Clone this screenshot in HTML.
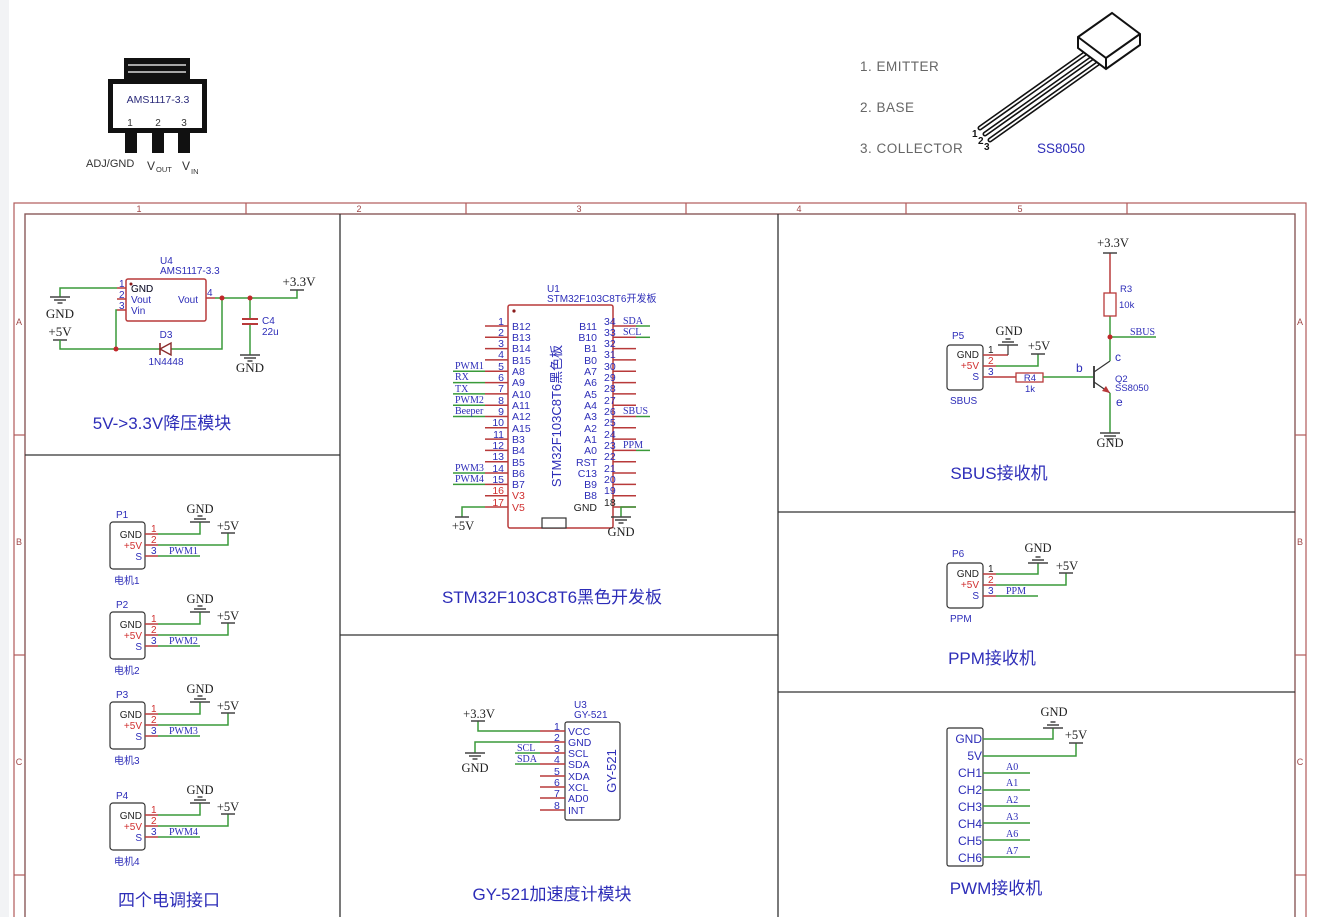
<!DOCTYPE html>
<html><head><meta charset="utf-8"><style>
html,body{margin:0;padding:0;background:#fff;}
svg{display:block;font-family:"Liberation Sans","Noto Sans CJK SC",sans-serif;}
.w{stroke:#3a9a3a;stroke-width:1.5;fill:none}
.p{stroke:#b83a3a;stroke-width:1.5;fill:none}
.k{stroke:#333;stroke-width:1.2;fill:none}
.b{fill:#2d2db8}
.r{fill:#d03030}
.s{font-family:"Liberation Serif",serif;fill:#222}
.sb{font-family:"Liberation Serif",serif;fill:#2d2db8}
</style></head><body>
<svg width="1319" height="917" viewBox="0 0 1319 917" xmlns="http://www.w3.org/2000/svg">
<defs>
<g id="gd" stroke="#444" stroke-width="1.5"><line x1="-10" y1="0" x2="10" y2="0"/><line x1="-6" y1="3" x2="6" y2="3"/><line x1="-2.5" y1="6" x2="2.5" y2="6"/></g>
<g id="gu" stroke="#444" stroke-width="1.5"><line x1="-10" y1="0" x2="10" y2="0"/><line x1="-6" y1="-3" x2="6" y2="-3"/><line x1="-2.5" y1="-6" x2="2.5" y2="-6"/></g>
<g id="pw" stroke="#444" stroke-width="1.5"><line x1="-7" y1="0" x2="7" y2="0"/></g>
</defs>
<rect x="0" y="0" width="9" height="917" fill="#f2f3f5"/>

<!-- TOP: AMS1117 package -->
<rect x="124" y="58" width="66" height="22" fill="#111"/>
<line x1="128" y1="65" x2="186" y2="65" stroke="#fff" stroke-width="1.2"/>
<line x1="128" y1="72" x2="186" y2="72" stroke="#fff" stroke-width="1.2"/>
<rect x="108" y="79" width="99" height="54" fill="#111"/>
<rect x="113" y="84" width="89" height="44" fill="#fff"/>
<text x="158" y="103" font-size="10.5" text-anchor="middle" fill="#2a2a7a">AMS1117-3.3</text>
<text x="130" y="126" font-size="10" text-anchor="middle" fill="#333">1</text>
<text x="158" y="126" font-size="10" text-anchor="middle" fill="#333">2</text>
<text x="184" y="126" font-size="10" text-anchor="middle" fill="#333">3</text>
<rect x="125" y="133" width="12" height="20" fill="#111"/>
<rect x="152" y="133" width="12" height="20" fill="#111"/>
<rect x="178" y="133" width="12" height="20" fill="#111"/>
<text x="86" y="167" font-size="11" fill="#333">ADJ/GND</text>
<text x="147" y="170" font-size="12" fill="#333">V</text><text x="156" y="172" font-size="7.5" fill="#333">OUT</text>
<text x="182" y="170" font-size="12" fill="#333">V</text><text x="191" y="174" font-size="7.5" fill="#333">IN</text>

<!-- TOP: transistor -->
<text x="860" y="71" font-size="13.5" fill="#666" letter-spacing="0.5">1. EMITTER</text>
<text x="860" y="112" font-size="13.5" fill="#666" letter-spacing="0.5">2. BASE</text>
<text x="860" y="153" font-size="13.5" fill="#666" letter-spacing="0.5">3. COLLECTOR</text>
<text x="1037" y="153" font-size="13.5" fill="#2d2db8">SS8050</text>
<g stroke="#111" stroke-width="5" stroke-linecap="round">
<line x1="980" y1="128" x2="1090" y2="50"/><line x1="985" y1="134" x2="1095" y2="56"/><line x1="990" y1="140" x2="1100" y2="62"/></g>
<g stroke="#fff" stroke-width="1.8" stroke-linecap="round">
<line x1="980" y1="128" x2="1090" y2="50"/><line x1="985" y1="134" x2="1095" y2="56"/><line x1="990" y1="140" x2="1100" y2="62"/></g>
<polygon points="1078,37 1112,13 1140,34 1140,45 1106,69 1078,48" fill="#fff" stroke="#111" stroke-width="2"/>
<polyline points="1078,37 1106,58 1140,34" fill="none" stroke="#111" stroke-width="2"/>
<line x1="1106" y1="58" x2="1106" y2="69" stroke="#111" stroke-width="2"/>
<text x="972" y="137" font-size="10" font-weight="bold" fill="#111">1</text>
<text x="978" y="144" font-size="10" font-weight="bold" fill="#111">2</text>
<text x="984" y="150" font-size="10" font-weight="bold" fill="#111">3</text>

<!-- FRAME -->
<rect x="14" y="203" width="1292" height="730" fill="none" stroke="#b05a5a" stroke-width="1.2"/>
<rect x="25" y="214" width="1270" height="720" fill="none" stroke="#8a5a5a" stroke-width="1.4"/>
<g stroke="#b05a5a" stroke-width="1.2">
<line x1="246" y1="203" x2="246" y2="214"/><line x1="466" y1="203" x2="466" y2="214"/><line x1="686" y1="203" x2="686" y2="214"/><line x1="906" y1="203" x2="906" y2="214"/><line x1="1127" y1="203" x2="1127" y2="214"/>
<line x1="14" y1="435" x2="25" y2="435"/><line x1="14" y1="655" x2="25" y2="655"/><line x1="14" y1="875" x2="25" y2="875"/>
<line x1="1295" y1="435" x2="1306" y2="435"/><line x1="1295" y1="655" x2="1306" y2="655"/><line x1="1295" y1="875" x2="1306" y2="875"/>
</g>
<g font-size="9" fill="#a04848" text-anchor="middle">
<text x="139" y="212">1</text><text x="359" y="212">2</text><text x="579" y="212">3</text><text x="799" y="212">4</text><text x="1020" y="212">5</text>
<text x="19" y="325">A</text><text x="19" y="545">B</text><text x="19" y="765">C</text>
<text x="1300" y="325">A</text><text x="1300" y="545">B</text><text x="1300" y="765">C</text>
</g>
<g stroke="#333" stroke-width="1.3">
<line x1="340" y1="214" x2="340" y2="917"/><line x1="778" y1="214" x2="778" y2="917"/>
<line x1="25" y1="455" x2="340" y2="455"/><line x1="340" y1="635" x2="778" y2="635"/>
<line x1="778" y1="512" x2="1295" y2="512"/><line x1="778" y1="692" x2="1295" y2="692"/>
</g>

<!-- MODULE 1: regulator -->
<text x="160" y="264" font-size="10" class="b">U4</text>
<text x="160" y="274" font-size="10" class="b">AMS1117-3.3</text>
<rect x="126" y="279" width="80" height="42" rx="2" class="p" stroke-width="1.2"/>
<circle cx="131" cy="284" r="1.5" fill="#8a1a1a"/>
<line x1="117" y1="288" x2="126" y2="288" class="p"/><line x1="117" y1="299" x2="126" y2="299" class="p"/><line x1="117" y1="310" x2="126" y2="310" class="p"/>
<line x1="206" y1="298" x2="215" y2="298" class="p"/>
<g font-size="10" class="b"><text x="119" y="287">1</text><text x="119" y="298">2</text><text x="119" y="309">3</text><text x="207" y="296">4</text>
<text x="131" y="292">GND</text><text x="131" y="303">Vout</text><text x="131" y="314">Vin</text><text x="178" y="303">Vout</text></g>
<text x="131" y="292" font-size="10" fill="#222">GND</text>
<polyline points="117,288 60,288 60,297" class="w"/>
<use href="#gd" x="60" y="297"/>
<text x="60" y="318" font-size="13" class="s" text-anchor="middle">GND</text>
<text x="60" y="336" font-size="13" class="s" text-anchor="middle">+5V</text>
<use href="#pw" x="60" y="340"/>
<polyline points="60,340 60,349 222,349 222,298" class="w"/>
<polyline points="117,310 116,310 116,349" class="w"/>
<polyline points="215,298 297,298 297,290" class="w"/>
<use href="#pw" x="297" y="290"/>
<text x="299" y="286" font-size="13" class="s" text-anchor="middle">+3.3V</text>
<polygon points="160,349 171,343 171,355" fill="#fff" stroke="#8a2a2a" stroke-width="1.4"/>
<line x1="160" y1="343" x2="160" y2="355" stroke="#8a2a2a" stroke-width="1.6"/>
<text x="166" y="338" font-size="10" class="b" text-anchor="middle">D3</text>
<text x="166" y="365" font-size="10" class="b" text-anchor="middle">1N4448</text>
<line x1="250" y1="298" x2="250" y2="318" class="w"/>
<line x1="242" y1="319" x2="258" y2="319" stroke="#b83a3a" stroke-width="2"/>
<line x1="242" y1="324" x2="258" y2="324" stroke="#b83a3a" stroke-width="2"/>
<line x1="250" y1="325" x2="250" y2="355" class="w"/>
<use href="#gd" x="250" y="355"/>
<text x="250" y="372" font-size="13" class="s" text-anchor="middle">GND</text>
<text x="262" y="324" font-size="10" class="b">C4</text><text x="262" y="335" font-size="10" class="b">22u</text>
<g fill="#c0282a"><circle cx="116" cy="349" r="2.5"/><circle cx="222" cy="298" r="2.5"/><circle cx="250" cy="298" r="2.5"/></g>
<text x="162" y="429" font-size="17" class="b" text-anchor="middle">5V-&gt;3.3V降压模块</text>

<!-- MOTOR connectors -->
<g id="m1">
<rect x="110" y="522" width="35" height="47" rx="3" class="k"/>
<line x1="145" y1="534" x2="158" y2="534" class="p"/><line x1="145" y1="545" x2="158" y2="545" class="p"/><line x1="145" y1="556" x2="158" y2="556" class="p"/>
<polyline points="158,534 200,534 200,522" class="w"/>
<polyline points="158,545 228,545 228,533" class="w"/>
<line x1="158" y1="556" x2="200" y2="556" class="w"/>
</g>
<g font-size="10">
<text x="116" y="518" class="b">P1</text>
<text x="142" y="538" fill="#222" text-anchor="end">GND</text><text x="142" y="549" class="r" text-anchor="end">+5V</text><text x="142" y="560" class="b" text-anchor="end">S</text>
<text x="151" y="532" class="r">1</text><text x="151" y="543" class="r">2</text><text x="151" y="554" class="b">3</text>
<text x="200" y="513" font-size="12.5" class="s" text-anchor="middle">GND</text>
<text x="228" y="530" font-size="12.5" class="s" text-anchor="middle">+5V</text>
<text x="169" y="554" class="sb">PWM1</text>
<text x="114" y="584" fill="#2d2db8" font-size="10">电机1</text>
</g>
<use href="#gu" x="200" y="522"/><use href="#pw" x="228" y="533"/>

<use href="#m1" x="0" y="90"/><use href="#gu" x="200" y="612"/><use href="#pw" x="228" y="623"/>
<g font-size="10">
<text x="116" y="608" class="b">P2</text>
<text x="142" y="628" fill="#222" text-anchor="end">GND</text><text x="142" y="639" class="r" text-anchor="end">+5V</text><text x="142" y="650" class="b" text-anchor="end">S</text>
<text x="151" y="622" class="r">1</text><text x="151" y="633" class="r">2</text><text x="151" y="644" class="b">3</text>
<text x="200" y="603" font-size="12.5" class="s" text-anchor="middle">GND</text>
<text x="228" y="620" font-size="12.5" class="s" text-anchor="middle">+5V</text>
<text x="169" y="644" class="sb">PWM2</text>
<text x="114" y="674" fill="#2d2db8" font-size="10">电机2</text>
</g>
<use href="#m1" x="0" y="180"/><use href="#gu" x="200" y="702"/><use href="#pw" x="228" y="713"/>
<g font-size="10">
<text x="116" y="698" class="b">P3</text>
<text x="142" y="718" fill="#222" text-anchor="end">GND</text><text x="142" y="729" class="r" text-anchor="end">+5V</text><text x="142" y="740" class="b" text-anchor="end">S</text>
<text x="151" y="712" class="r">1</text><text x="151" y="723" class="r">2</text><text x="151" y="734" class="b">3</text>
<text x="200" y="693" font-size="12.5" class="s" text-anchor="middle">GND</text>
<text x="228" y="710" font-size="12.5" class="s" text-anchor="middle">+5V</text>
<text x="169" y="734" class="sb">PWM3</text>
<text x="114" y="764" fill="#2d2db8" font-size="10">电机3</text>
</g>
<use href="#m1" x="0" y="281"/><use href="#gu" x="200" y="803"/><use href="#pw" x="228" y="814"/>
<g font-size="10">
<text x="116" y="799" class="b">P4</text>
<text x="142" y="819" fill="#222" text-anchor="end">GND</text><text x="142" y="830" class="r" text-anchor="end">+5V</text><text x="142" y="841" class="b" text-anchor="end">S</text>
<text x="151" y="813" class="r">1</text><text x="151" y="824" class="r">2</text><text x="151" y="835" class="b">3</text>
<text x="200" y="794" font-size="12.5" class="s" text-anchor="middle">GND</text>
<text x="228" y="811" font-size="12.5" class="s" text-anchor="middle">+5V</text>
<text x="169" y="835" class="sb">PWM4</text>
<text x="114" y="865" fill="#2d2db8" font-size="10">电机4</text>
</g>
<text x="169" y="906" font-size="17" class="b" text-anchor="middle">四个电调接口</text>

<!-- STM32 -->
<text x="547" y="292" font-size="10" class="b">U1</text>
<text x="547" y="302" font-size="10" class="b">STM32F103C8T6开发板</text>
<rect x="508" y="305" width="105" height="223" rx="2" class="p" stroke-width="1.2"/>
<circle cx="514" cy="311" r="1.6" fill="#8a1a1a"/>
<rect x="542" y="518" width="24" height="10" fill="#fff" stroke="#333" stroke-width="1.2"/>
<g class="p">
<line x1="485" y1="326" x2="508" y2="326"/><line x1="485" y1="337.3" x2="508" y2="337.3"/><line x1="485" y1="348.6" x2="508" y2="348.6"/><line x1="485" y1="359.9" x2="508" y2="359.9"/><line x1="485" y1="371.2" x2="508" y2="371.2"/><line x1="485" y1="382.6" x2="508" y2="382.6"/><line x1="485" y1="393.9" x2="508" y2="393.9"/><line x1="485" y1="405.2" x2="508" y2="405.2"/><line x1="485" y1="416.5" x2="508" y2="416.5"/><line x1="485" y1="427.8" x2="508" y2="427.8"/><line x1="485" y1="439.1" x2="508" y2="439.1"/><line x1="485" y1="450.4" x2="508" y2="450.4"/><line x1="485" y1="461.7" x2="508" y2="461.7"/><line x1="485" y1="473" x2="508" y2="473"/><line x1="485" y1="484.4" x2="508" y2="484.4"/><line x1="485" y1="495.7" x2="508" y2="495.7"/><line x1="485" y1="507" x2="508" y2="507"/>
<line x1="613" y1="326" x2="636" y2="326"/><line x1="613" y1="337.3" x2="636" y2="337.3"/><line x1="613" y1="348.6" x2="636" y2="348.6"/><line x1="613" y1="359.9" x2="636" y2="359.9"/><line x1="613" y1="371.2" x2="636" y2="371.2"/><line x1="613" y1="382.6" x2="636" y2="382.6"/><line x1="613" y1="393.9" x2="636" y2="393.9"/><line x1="613" y1="405.2" x2="636" y2="405.2"/><line x1="613" y1="416.5" x2="636" y2="416.5"/><line x1="613" y1="427.8" x2="636" y2="427.8"/><line x1="613" y1="439.1" x2="636" y2="439.1"/><line x1="613" y1="450.4" x2="636" y2="450.4"/><line x1="613" y1="461.7" x2="636" y2="461.7"/><line x1="613" y1="473" x2="636" y2="473"/><line x1="613" y1="484.4" x2="636" y2="484.4"/><line x1="613" y1="495.7" x2="636" y2="495.7"/><line x1="613" y1="507" x2="636" y2="507"/>
</g>
<g font-size="10.5" class="b" text-anchor="end">
<text x="504" y="325">1</text><text x="504" y="336">2</text><text x="504" y="347">3</text><text x="504" y="358">4</text><text x="504" y="370">5</text><text x="504" y="381">6</text><text x="504" y="392">7</text><text x="504" y="404">8</text><text x="504" y="415">9</text><text x="504" y="426">10</text><text x="504" y="438">11</text><text x="504" y="449">12</text><text x="504" y="460">13</text><text x="504" y="472">14</text><text x="504" y="483">15</text>
<text x="504" y="494" class="r">16</text><text x="504" y="506" class="r">17</text>
</g>
<g font-size="10.5" class="b">
<text x="512" y="330">B12</text><text x="512" y="341">B13</text><text x="512" y="352">B14</text><text x="512" y="364">B15</text><text x="512" y="375">A8</text><text x="512" y="386">A9</text><text x="512" y="398">A10</text><text x="512" y="409">A11</text><text x="512" y="420">A12</text><text x="512" y="432">A15</text><text x="512" y="443">B3</text><text x="512" y="454">B4</text><text x="512" y="466">B5</text><text x="512" y="477">B6</text><text x="512" y="488">B7</text>
<text x="512" y="499" class="r">V3</text><text x="512" y="511" class="r">V5</text>
<text x="604" y="325">34</text><text x="604" y="336">33</text><text x="604" y="347">32</text><text x="604" y="358">31</text><text x="604" y="370">30</text><text x="604" y="381">29</text><text x="604" y="392">28</text><text x="604" y="404">27</text><text x="604" y="415">26</text><text x="604" y="426">25</text><text x="604" y="438">24</text><text x="604" y="449">23</text><text x="604" y="460">22</text><text x="604" y="472">21</text><text x="604" y="483">20</text><text x="604" y="494">19</text><text x="604" y="506" fill="#222">18</text>
</g>
<g font-size="10.5" class="b" text-anchor="end">
<text x="597" y="330">B11</text><text x="597" y="341">B10</text><text x="597" y="352">B1</text><text x="597" y="364">B0</text><text x="597" y="375">A7</text><text x="597" y="386">A6</text><text x="597" y="398">A5</text><text x="597" y="409">A4</text><text x="597" y="420">A3</text><text x="597" y="432">A2</text><text x="597" y="443">A1</text><text x="597" y="454">A0</text><text x="597" y="466">RST</text><text x="597" y="477">C13</text><text x="597" y="488">B9</text><text x="597" y="499">B8</text><text x="597" y="511" fill="#222">GND</text>
</g>
<text transform="translate(561,416) rotate(-90)" font-size="13" class="b" text-anchor="middle">STM32F103C8T6黑色板</text>
<g class="w">
<line x1="453" y1="371.2" x2="485" y2="371.2"/><line x1="453" y1="382.6" x2="485" y2="382.6"/><line x1="453" y1="393.9" x2="485" y2="393.9"/><line x1="453" y1="405.2" x2="485" y2="405.2"/><line x1="453" y1="416.5" x2="485" y2="416.5"/><line x1="453" y1="473" x2="485" y2="473"/><line x1="453" y1="484.4" x2="485" y2="484.4"/>
<line x1="636" y1="326" x2="650" y2="326"/><line x1="636" y1="337.3" x2="650" y2="337.3"/><line x1="636" y1="416.5" x2="650" y2="416.5"/><line x1="636" y1="450.4" x2="650" y2="450.4"/>
<polyline points="485,507 462,507 462,517"/><polyline points="636,507 621,507 621,517"/>
</g>
<g font-size="10" class="sb">
<text x="455" y="369">PWM1</text><text x="455" y="380">RX</text><text x="455" y="392">TX</text><text x="455" y="403">PWM2</text><text x="455" y="414">Beeper</text><text x="455" y="471">PWM3</text><text x="455" y="482">PWM4</text>
<text x="623" y="324">SDA</text><text x="623" y="335">SCL</text><text x="623" y="414">SBUS</text><text x="623" y="448">PPM</text>
</g>
<use href="#pw" x="462" y="517"/><use href="#gd" x="621" y="517"/>
<text x="463" y="530" font-size="12.5" class="s" text-anchor="middle">+5V</text>
<text x="621" y="536" font-size="12.5" class="s" text-anchor="middle">GND</text>
<text x="552" y="603" font-size="17" class="b" text-anchor="middle">STM32F103C8T6黑色开发板</text>

<!-- GY-521 -->
<text x="574" y="708" font-size="10" class="b">U3</text>
<text x="574" y="718" font-size="10" class="b">GY-521</text>
<rect x="565" y="722" width="55" height="98" rx="2" class="k"/>
<g class="p">
<line x1="540" y1="731" x2="565" y2="731"/><line x1="540" y1="742" x2="565" y2="742"/><line x1="540" y1="753" x2="565" y2="753"/><line x1="540" y1="764" x2="565" y2="764"/><line x1="540" y1="776" x2="565" y2="776"/><line x1="540" y1="787" x2="565" y2="787"/><line x1="540" y1="798" x2="565" y2="798"/><line x1="540" y1="810" x2="565" y2="810"/>
</g>
<g font-size="10.5" class="b">
<text x="554" y="730">1</text><text x="554" y="741">2</text><text x="554" y="752">3</text><text x="554" y="763">4</text><text x="554" y="775">5</text><text x="554" y="786">6</text><text x="554" y="797">7</text><text x="554" y="809">8</text>
<text x="568" y="735">VCC</text><text x="568" y="746">GND</text><text x="568" y="757">SCL</text><text x="568" y="768">SDA</text><text x="568" y="780">XDA</text><text x="568" y="791">XCL</text><text x="568" y="802">AD0</text><text x="568" y="814">INT</text>
</g>
<text transform="translate(616,771) rotate(-90)" font-size="13" class="b" text-anchor="middle">GY-521</text>
<g class="w">
<polyline points="478,721 478,731 540,731"/><polyline points="540,742 475,742 475,753"/>
<line x1="515" y1="753" x2="540" y2="753"/><line x1="515" y1="764" x2="540" y2="764"/>
</g>
<use href="#pw" x="478" y="721"/><use href="#gd" x="475" y="753"/>
<text x="479" y="718" font-size="12.5" class="s" text-anchor="middle">+3.3V</text>
<text x="475" y="772" font-size="12.5" class="s" text-anchor="middle">GND</text>
<text x="517" y="751" font-size="10" class="sb">SCL</text><text x="517" y="762" font-size="10" class="sb">SDA</text>
<text x="552" y="900" font-size="17" class="b" text-anchor="middle">GY-521加速度计模块</text>

<!-- SBUS -->
<text x="952" y="339" font-size="10" class="b">P5</text>
<rect x="947" y="345" width="36" height="45" rx="3" class="k"/>
<g font-size="10">
<text x="979" y="358" fill="#222" text-anchor="end">GND</text><text x="979" y="369" class="r" text-anchor="end">+5V</text><text x="979" y="380" class="b" text-anchor="end">S</text>
<text x="988" y="353" fill="#222">1</text><text x="988" y="364" class="r">2</text><text x="988" y="375" class="b">3</text>
<text x="950" y="404" class="b">SBUS</text>
</g>
<line x1="983" y1="355" x2="1008" y2="355" class="p"/><line x1="1008" y1="355" x2="1008" y2="345" class="k"/>
<line x1="983" y1="366" x2="996" y2="366" class="p"/><polyline points="996,366 1038,366 1038,354" class="w"/>
<line x1="983" y1="377" x2="1016" y2="377" class="p"/>
<use href="#gu" x="1008" y="345"/><use href="#pw" x="1038" y="354"/>
<text x="1009" y="335" font-size="12.5" class="s" text-anchor="middle">GND</text>
<text x="1039" y="350" font-size="12.5" class="s" text-anchor="middle">+5V</text>
<rect x="1016" y="373" width="27" height="9" fill="#fff" stroke="#b83a3a" stroke-width="1.3"/>
<text x="1030" y="381" font-size="9.5" class="b" text-anchor="middle">R4</text>
<text x="1030" y="392" font-size="9.5" class="b" text-anchor="middle">1k</text>
<line x1="1043" y1="377" x2="1093" y2="377" class="w"/>
<text x="1076" y="372" font-size="12" class="b">b</text>
<line x1="1094" y1="366" x2="1094" y2="388" stroke="#333" stroke-width="1.8"/>
<line x1="1094" y1="372" x2="1110" y2="361" class="k"/>
<line x1="1094" y1="382" x2="1110" y2="393" class="k"/>
<polygon points="1110,393 1102,391 1106,386" fill="#b83a3a"/>
<line x1="1110" y1="361" x2="1110" y2="337" class="w"/>
<line x1="1110" y1="337" x2="1110" y2="316" class="w"/>
<line x1="1110" y1="293" x2="1110" y2="253" class="p"/>
<use href="#pw" x="1110" y="253"/>
<text x="1113" y="247" font-size="12.5" class="s" text-anchor="middle">+3.3V</text>
<rect x="1104" y="293" width="12" height="23" fill="#fff" stroke="#b83a3a" stroke-width="1.3"/>
<text x="1120" y="292" font-size="9.5" class="b">R3</text>
<text x="1119" y="308" font-size="9.5" class="b">10k</text>
<line x1="1110" y1="337" x2="1156" y2="337" class="w"/>
<circle cx="1110" cy="337" r="2.5" fill="#c0282a"/>
<text x="1130" y="335" font-size="10" class="sb">SBUS</text>
<text x="1115" y="361" font-size="12" class="b">c</text>
<text x="1115" y="382" font-size="9.5" class="b">Q2</text>
<text x="1115" y="391" font-size="9.5" class="b">SS8050</text>
<text x="1116" y="406" font-size="12" class="b">e</text>
<line x1="1110" y1="393" x2="1110" y2="433" class="w"/>
<use href="#gd" x="1110" y="433"/>
<text x="1110" y="447" font-size="12.5" class="s" text-anchor="middle">GND</text>
<text x="999" y="479" font-size="17" class="b" text-anchor="middle">SBUS接收机</text>

<!-- PPM -->
<text x="952" y="557" font-size="10" class="b">P6</text>
<rect x="947" y="563" width="36" height="45" rx="3" class="k"/>
<g font-size="10">
<text x="979" y="577" fill="#222" text-anchor="end">GND</text><text x="979" y="588" class="r" text-anchor="end">+5V</text><text x="979" y="599" class="b" text-anchor="end">S</text>
<text x="988" y="572" fill="#222">1</text><text x="988" y="583" class="r">2</text><text x="988" y="594" class="b">3</text>
<text x="950" y="622" class="b">PPM</text>
</g>
<line x1="983" y1="574" x2="996" y2="574" class="p"/><polyline points="996,574 1038,574 1038,563" class="w"/>
<line x1="983" y1="585" x2="996" y2="585" class="p"/><polyline points="996,585 1066,585 1066,573" class="w"/>
<line x1="983" y1="596" x2="996" y2="596" class="p"/><line x1="996" y1="596" x2="1038" y2="596" class="w"/>
<use href="#gu" x="1038" y="563"/><use href="#pw" x="1066" y="573"/>
<text x="1038" y="552" font-size="12.5" class="s" text-anchor="middle">GND</text>
<text x="1067" y="570" font-size="12.5" class="s" text-anchor="middle">+5V</text>
<text x="1006" y="594" font-size="10" class="sb">PPM</text>
<text x="992" y="664" font-size="17" class="b" text-anchor="middle">PPM接收机</text>

<!-- PWM receiver -->
<rect x="947" y="728" width="36" height="138" rx="2" class="k"/>
<g font-size="12" class="b" text-anchor="end">
<text x="982" y="743">GND</text><text x="982" y="760">5V</text><text x="982" y="777">CH1</text><text x="982" y="794">CH2</text><text x="982" y="811">CH3</text><text x="982" y="828">CH4</text><text x="982" y="845">CH5</text><text x="982" y="862">CH6</text>
</g>
<g class="w">
<polyline points="983,739 1053,739 1053,728"/><polyline points="983,756 1076,756 1076,743"/>
<line x1="983" y1="773" x2="1030" y2="773"/><line x1="983" y1="790" x2="1030" y2="790"/><line x1="983" y1="806" x2="1030" y2="806"/><line x1="983" y1="823" x2="1030" y2="823"/><line x1="983" y1="840" x2="1030" y2="840"/><line x1="983" y1="857" x2="1030" y2="857"/>
</g>
<use href="#gu" x="1053" y="728"/><use href="#pw" x="1076" y="743"/>
<text x="1054" y="716" font-size="12.5" class="s" text-anchor="middle">GND</text>
<text x="1076" y="739" font-size="12.5" class="s" text-anchor="middle">+5V</text>
<g font-size="10" class="sb">
<text x="1006" y="770">A0</text><text x="1006" y="786">A1</text><text x="1006" y="803">A2</text><text x="1006" y="820">A3</text><text x="1006" y="837">A6</text><text x="1006" y="854">A7</text>
</g>
<text x="996" y="894" font-size="17" class="b" text-anchor="middle">PWM接收机</text>
</svg>
</body></html>
